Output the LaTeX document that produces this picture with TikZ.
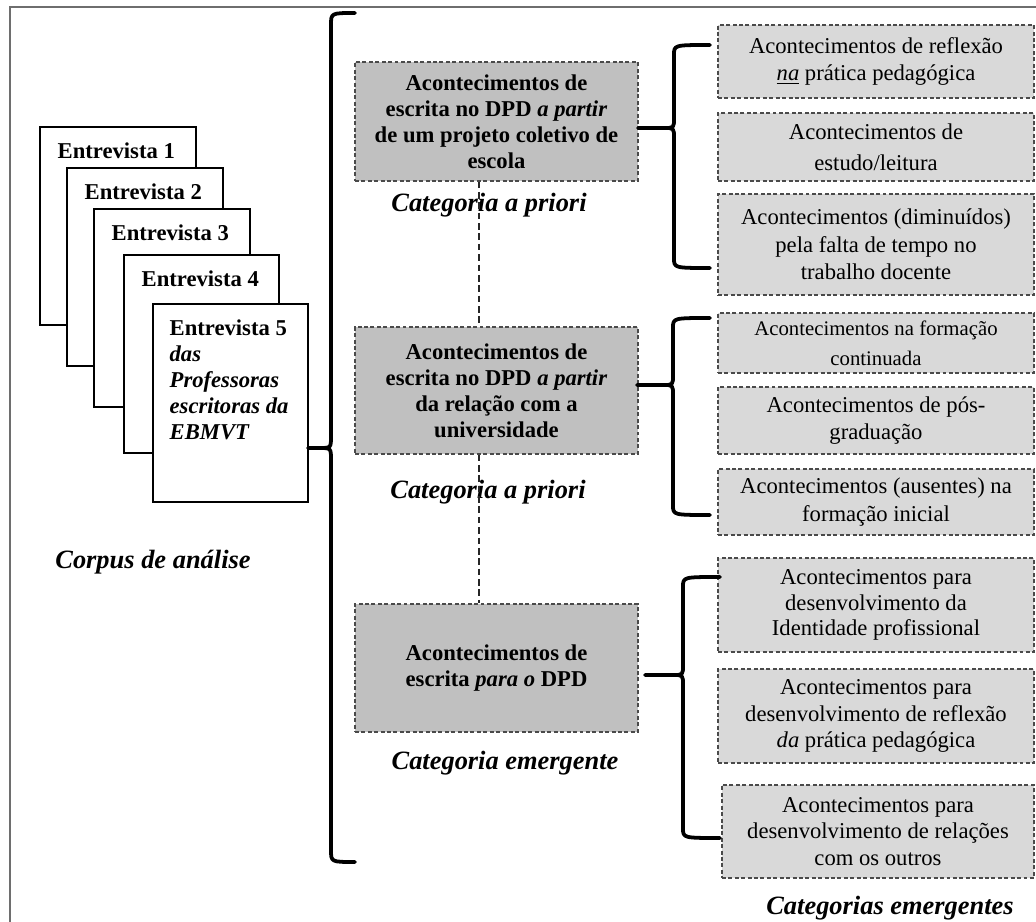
\documentclass[tikz,border=0pt]{standalone}
\usepackage{fontspec}
\setmainfont{Liberation Serif}
\definecolor{midgray}{HTML}{C0C0C0}
\definecolor{lightgray2}{HTML}{D9D9D9}
\definecolor{dashgray}{HTML}{4A4A4A}
\definecolor{framegray}{HTML}{6E6E6E}
\newcommand\obrace[7]{%
  \draw[bracestyle] (#1,#2) .. controls (#3,#2) .. (#3,#2+#7)
    -- (#3,#4-#7) .. controls (#3,#4) .. (#3-#7,#4) -- (#5,#4)
    -- (#3-#7,#4) .. controls (#3,#4) .. (#3,#4+#7)
    -- (#3,#6-#7) .. controls (#3,#6) .. (#1,#6);}
\begin{document}
\begin{tikzpicture}[x=0.53pt,y=-0.53pt,
  mw/.style={minimum width=#1*0.53pt},
  mh/.style={minimum height=#1*0.53pt},
  page/.style={draw=black, fill=white, line width=0.75pt, inner sep=0pt},
  ptext/.style={inner sep=0pt, font=\bfseries\fontsize{12}{13.8}\selectfont},
  mbox/.style={draw=dashgray, fill=midgray, dash pattern=on 2.1pt off 1.3pt,
    line width=0.6pt, align=center, inner sep=0pt, mw=283,
    font=\bfseries\fontsize{12}{13.8}\selectfont},
  rbox/.style={draw=dashgray, fill=lightgray2, dash pattern=on 2.1pt off 1.3pt,
    line width=0.6pt, align=center, inner sep=0pt, mw=316,
    font=\fontsize{12}{14.6}\selectfont},
  cat/.style={inner sep=0pt, font=\bfseries\itshape\fontsize{14}{16}\selectfont},
  vconn/.style={draw=black!85, line width=1.1pt, dash pattern=on 3.5pt off 2pt},
  bracestyle/.style={draw=black, line width=2pt, line cap=round, line join=round},
  framestyle/.style={draw=framegray, line width=1.2pt}]
\useasboundingbox (0,0) rectangle (1036,922);
\clip (0,0) rectangle (1036,922);
\fill[white] (0,0) rectangle (1036,922);
\draw[framestyle] (10,7) rectangle (1060,950);

% pages
\node[page, mw=156, mh=198] (p1) at (118,226) {};
\node[ptext, anchor=north west] (t1) at ([xshift=18*0.53pt,yshift=-16*0.53pt]p1.north west) {Entrevista 1};
\node[page, mw=156, mh=198] (p2) at (145,267) {};
\node[ptext, anchor=north west] (t2) at ([xshift=18*0.53pt,yshift=-16*0.53pt]p2.north west) {Entrevista 2};
\node[page, mw=156, mh=198] (p3) at (172,308) {};
\node[ptext, anchor=north west] (t3) at ([xshift=18*0.53pt,yshift=-16*0.53pt]p3.north west) {Entrevista 3};
\node[page, mw=155, mh=198] (p4) at (201.5,354) {};
\node[ptext, anchor=north west] (t4) at ([xshift=18*0.53pt,yshift=-16*0.53pt]p4.north west) {Entrevista 4};
\node[page, mw=155, mh=198] (p5) at (230.5,403) {};
\node[ptext, anchor=north west, align=left] (t5) at ([xshift=17*0.53pt,yshift=-16*0.53pt]p5.north west)
  {Entrevista 5\\\textit{das}\\\textit{Professoras}\\\textit{escritoras da}\\\textit{EBMVT}};

\node[cat] (corpus) at (153,562) {Corpus de análise};

% middle boxes
\node[mbox, mh=119] (m1) at (496.5,121.5) {Acontecimentos de\\escrita no DPD \textit{a partir}\\de um projeto coletivo de\\escola};
\node[mbox, mh=127] (m2) at (496.5,390.5) {Acontecimentos de\\escrita no DPD \textit{a partir}\\da relação com a\\universidade};
\node[mbox, mh=128] (m3) at (496.5,668) {Acontecimentos de\\escrita \textit{para o} DPD};

\node[cat] (c1) at (489,205) {Categoria a priori};
\node[cat] (c2) at (488,492) {Categoria a priori};
\node[cat] (c3) at (505,763) {Categoria emergente};

\draw[vconn] ([xshift=-17.5*0.53pt]m1.south) -- ([xshift=-17.5*0.53pt]m2.north);
\draw[vconn] ([xshift=-17.5*0.53pt]m2.south) -- ([xshift=-17.5*0.53pt]m3.north);

% right boxes
\node[rbox, mh=73] (r1) at (876,61.5) {Acontecimentos de reflexão\\\underline{\textit{na}} prática pedagógica};
\node[rbox, mh=68, font=\fontsize{12}{16.2}\selectfont] (r2) at (876,147) {Acontecimentos de\\estudo/leitura};
\node[rbox, mh=101] (r3) at (876,244.5) {Acontecimentos (diminuídos)\\pela falta de tempo no\\trabalho docente};
\node[rbox, mh=60, font=\fontsize{11}{16}\selectfont] (r4) at (876,343) {Acontecimentos na formação\\continuada};
\node[rbox, mh=67] (r5) at (876,420.5) {Acontecimentos de pós-\\graduação};
\node[rbox, mh=66] (r6) at (876,502) {Acontecimentos (ausentes) na\\formação inicial};
\node[rbox, mh=94, font=\fontsize{12}{13.4}\selectfont] (r7) at (876,605) {Acontecimentos para\\desenvolvimento da\\Identidade profissional};
\node[rbox, mh=94, font=\fontsize{12}{14}\selectfont] (r8) at (876,716) {Acontecimentos para\\desenvolvimento de reflexão\\\textit{da} prática pedagógica};
\node[rbox, mh=93, mw=312, font=\fontsize{12}{14}\selectfont] (r9) at (878,831.5) {Acontecimentos para\\desenvolvimento de relações\\com os outros};

\node[cat] (c4) at (890,908) {Categorias emergentes};

% braces
\obrace{355}{13}{331}{448}{308}{862}{12}
\obrace{710}{45}{674}{128}{638}{268}{10}
\obrace{710}{318}{673}{385}{637}{515}{10}
\obrace{720}{577}{683}{675}{645}{838}{10}
\end{tikzpicture}
\end{document}
